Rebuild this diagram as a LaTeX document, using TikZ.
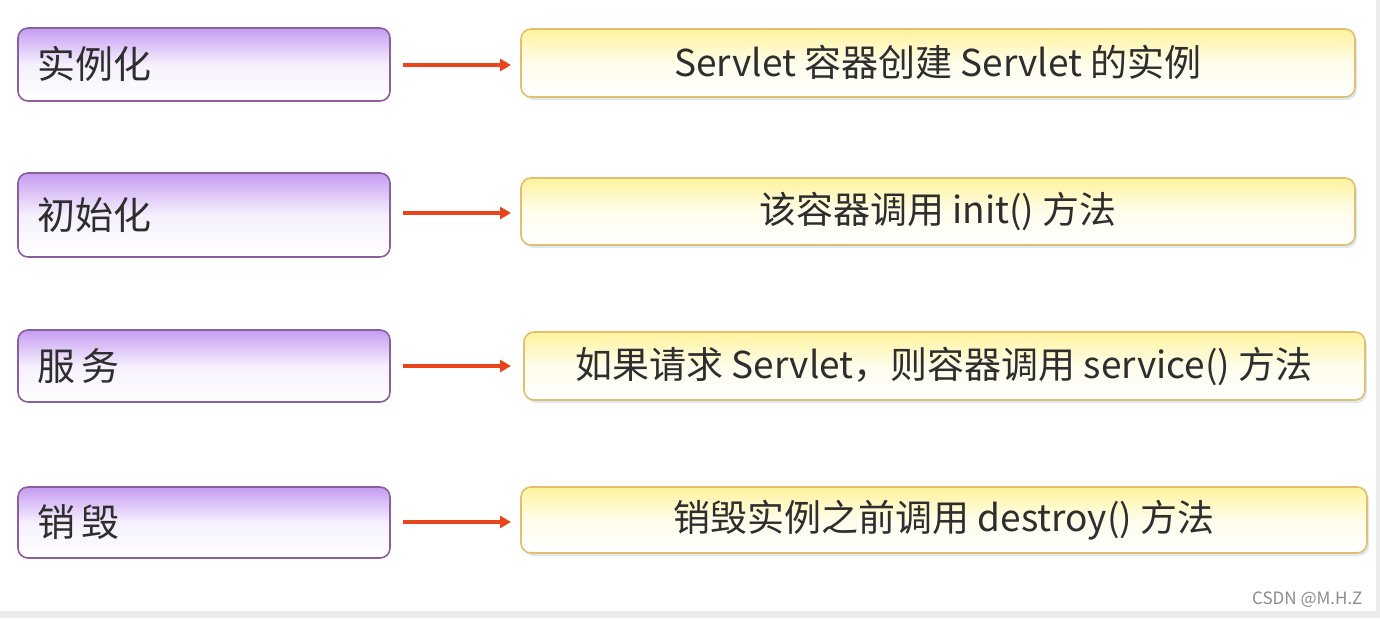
\documentclass[tikz,border=0pt]{standalone}
\usepackage{fontspec}
\setmainfont{Noto Sans CJK SC}
\usetikzlibrary{arrows.meta,shadows}
\definecolor{lbord}{HTML}{8A5F9E}
\definecolor{ltop}{HTML}{C59CF2}
\definecolor{rbord}{HTML}{E2BE6E}
\definecolor{rtop}{HTML}{FFF39C}
\definecolor{arr}{HTML}{E9441C}
\definecolor{txt}{HTML}{2E2E2E}
\definecolor{shad}{HTML}{DCEBF2}
\tikzset{
  lbox/.style={draw=lbord, line width=1.6pt, rounded corners=10pt, top color=ltop, bottom color=white, middle color=white!85!ltop, inner sep=0pt},
  rbox/.style={draw=rbord, line width=1.6pt, rounded corners=10pt, top color=rtop, bottom color=white, middle color=white!80!rtop, inner sep=0pt,
     drop shadow={shadow xshift=2pt, shadow yshift=-3pt, fill=shad, opacity=1}},
  ltext/.style={anchor=west, font=\fontsize{38}{44}\selectfont, text=txt},
  rtext/.style={font=\fontsize{37}{42}\selectfont, text=txt},
  conn/.style={draw=arr, line width=3.6pt, -{Triangle[length=11pt,width=12pt]}}
}
\begin{document}
\begin{tikzpicture}[x=1pt,y=-1pt]
\useasboundingbox (0,0) rectangle (1380,618);
\fill[white] (0,0) rectangle (1380,618);
\fill[black!8] (0,611) rectangle (1380,618);
\fill[black!8] (1376,0) rectangle (1380,618);
% left boxes
\path[lbox] (18,28) rectangle (390,101);
\path[lbox] (18,173) rectangle (390,257);
\path[lbox] (18,330) rectangle (390,402);
\path[lbox] (18,487) rectangle (390,558);
\node[ltext] (l1) at (34,64) {实例化};
\node[ltext] (l2) at (34,215) {初始化};
\node[ltext] (l3) at (34,366) {服\,务};
\node[ltext] (l4) at (34,522) {销\,毁};
% right boxes
\path[rbox] (521,29) rectangle (1355,97);
\path[rbox] (521,178) rectangle (1355,245);
\path[rbox] (524,332) rectangle (1365,400);
\path[rbox] (521,487) rectangle (1367,553);
\node[rtext] (r1) at (938,62) {Servlet 容器创建 Servlet 的实例};
\node[rtext] (r2) at (938,211) {该容器调用 init() 方法};
\node[rtext] (r3) at (944,366) {如果请求 Servlet，则容器调用 service() 方法};
\node[rtext] (r4) at (944,520) {销毁实例之前调用 destroy() 方法};
% connectors
\coordinate (a1s) at (403,65); \coordinate (a1e) at (511,65);
\coordinate (a2s) at (403,213); \coordinate (a2e) at (511,213);
\coordinate (a3s) at (403,366); \coordinate (a3e) at (511,366);
\coordinate (a4s) at (403,522); \coordinate (a4e) at (511,522);
\draw[conn] (a1s) -- (a1e);
\draw[conn] (a2s) -- (a2e);
\draw[conn] (a3s) -- (a3e);
\draw[conn] (a4s) -- (a4e);
\node[anchor=east, font=\fontsize{17}{20}\selectfont, text=black!45] (wm) at (1366,600) {CSDN @M.H.Z};
\end{tikzpicture}
\end{document}
